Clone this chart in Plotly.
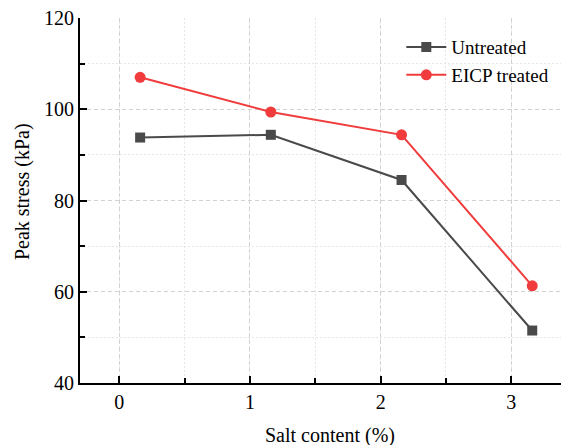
import plotly.graph_objects as go

salt = [0.16, 1.16, 2.16, 3.16]
untreated = [93.8, 94.4, 84.5, 51.5]
eicp = [107.0, 99.4, 94.4, 61.3]
series_names = ["Untreated", "EICP treated"]
x_ticks = [0, 1, 2, 3]

FONT = "Liberation Serif, Times New Roman, serif"

fig = go.Figure()
fig.add_trace(go.Scatter(
    x=salt, y=untreated, name=series_names[0], mode="lines+markers",
    line=dict(color="#4a4a4a", width=2),
    marker=dict(symbol="square", size=10, color="#4a4a4a"),
))
fig.add_trace(go.Scatter(
    x=salt, y=eicp, name=series_names[1], mode="lines+markers",
    line=dict(color="#f03c3c", width=2),
    marker=dict(symbol="circle", size=11, color="#f03c3c"),
))

axis_common = dict(
    showline=True, linecolor="black", linewidth=2,
    ticks="inside", tickcolor="black", tickwidth=2, ticklen=7,
    showgrid=True, gridcolor="#d2d2d2", griddash="4px,3px", gridwidth=1,
    zeroline=False, mirror=False, automargin=False,
    ticklabeloverflow="allow",
    tickfont=dict(family=FONT, size=20, color="black"),
)

fig.update_layout(
    width=566, height=445,
    margin=dict(l=80, r=5, t=18, b=62),
    paper_bgcolor="white", plot_bgcolor="white",
    font=dict(family=FONT, size=20, color="black"),
    showlegend=True,
    legend=dict(
        x=0.668, y=0.972, xanchor="left", yanchor="top",
        bgcolor="rgba(0,0,0,0)", font=dict(family=FONT, size=19),
        tracegroupgap=0, itemwidth=40,
    ),
    xaxis=dict(
        axis_common,
        range=[-0.3, 3.38], tickmode="array", tickvals=x_ticks,
        ticktext=[str(v) for v in x_ticks],
        ticklabelstandoff=0,
        minor=dict(dtick=0.5, tick0=0, ticks="inside", ticklen=5, tickwidth=2, tickcolor="black",
                   showgrid=True, gridcolor="#e6e6e6", griddash="2px,2px", gridwidth=1),
    ),
    yaxis=dict(
        axis_common,
        range=[40, 120], tickmode="linear", tick0=40, dtick=20,
        minor=dict(dtick=10, tick0=40, ticks="inside", ticklen=5, tickwidth=2, tickcolor="black",
                   showgrid=True, gridcolor="#e6e6e6", griddash="2px,2px", gridwidth=1),
    ),
    annotations=[
        dict(text="Salt content (%)", xref="paper", yref="paper", x=0.52, y=0,
             xanchor="center", yanchor="middle", yshift=-52, showarrow=False,
             font=dict(family=FONT, size=20)),
        dict(text="Peak stress (kPa)", xref="paper", yref="paper", x=0, y=0.523,
             xanchor="center", yanchor="middle", xshift=-58, textangle=-90, showarrow=False,
             font=dict(family=FONT, size=20)),
    ],
)

fig.write_html("out.html", config={"displayModeBar": False},
               post_script="document.body.style.margin='0';")
